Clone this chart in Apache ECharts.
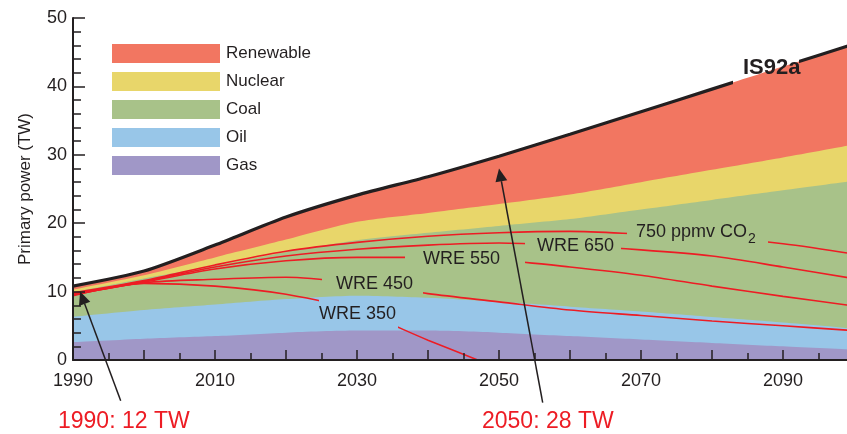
<!DOCTYPE html>
<html>
<head>
<meta charset="utf-8">
<script src="https://cdn.jsdelivr.net/npm/echarts@6/dist/echarts.min.js"></script>
<style>
  html, body { margin: 0; padding: 0; background: #fff; overflow: hidden; }
  /* The plot runs to 2100, a little past the right edge of the window */
  #chart { width: 857px; height: 434px; }
</style>
</head>
<body>
<div id="chart"></div>
<script>
// Primary power by source under the IS92a scenario (TW), decade steps
const years = [1990, 2000, 2010, 2020, 2030, 2040, 2050, 2060, 2070, 2080, 2090, 2100];
const gas       = [2.6, 3.1, 3.5, 4.0, 4.3, 4.3, 4.0, 3.5, 3.0, 2.5, 2.0, 1.5];
const oil       = [3.7, 4.2, 4.6, 4.9, 5.1, 4.8, 4.5, 4.3, 4.1, 3.8, 3.5, 3.1];
const coal      = [3.6, 4.6, 5.7, 6.9, 8.1, 9.5, 11.1, 12.8, 14.9, 17.1, 19.3, 21.6];
const nuclear   = [0.4, 0.5, 1.2, 1.8, 2.7, 2.9, 3.2, 3.6, 4.0, 4.4, 4.8, 5.3];
const renewable = [0.5, 0.6, 1.8, 3.3, 3.9, 5.3, 7.0, 8.8, 10.3, 11.8, 13.3, 14.7];

// Carbon-free power needed for WRE CO2 stabilisation paths (TW)
const wre750 = [9.8, 11.6, 13.9, 15.9, 17.2, 18.1, 18.6, 18.8, 18.4, 17.9, 17.0, 15.5];
const wre650 = [9.7, 11.5, 13.6, 15.2, 16.2, 16.8, 17.1, 16.7, 16.1, 15.2, 13.6, 11.9];
const wre550 = [9.6, 11.4, 13.3, 14.5, 15.0, 15.0, 14.6, 13.6, 12.4, 10.8, 9.3, 7.9];
const wre450 = [9.5, 11.3, 11.8, 12.1, 11.2, 9.7, 8.5, 7.3, 6.5, 5.7, 5.0, 4.3];
const years350 = [1990, 2000, 2010, 2020, 2030, 2040, 2047];
const wre350 = [9.4, 11.2, 10.8, 9.6, 7.2, 2.9, 0];

// Annotated points: [year, TW] the arrows point at
const arrowTargets = [[1991, 10.0], [2050, 28.0]];
const annotations = ['1990: 12 TW', '2050: 28 TW'];

const sourceNames = ['Renewable', 'Nuclear', 'Coal', 'Oil', 'Gas'];
const sourceColors = {
  Gas: '#A097C7', Oil: '#98C6E8', Coal: '#A8C289', Nuclear: '#E8D66A', Renewable: '#F27661'
};

const FONT = '"Liberation Sans", Arial, Helvetica, sans-serif';
const INK = '#231f20';
const RED = '#ed1c24';

const pairs = (xs, ys) => xs.map((x, i) => [x, ys[i]]);

// Running totals, bottom (gas) to top (renewable): the upper edge of each band
const layers = { Gas: gas, Oil: oil, Coal: coal, Nuclear: nuclear, Renewable: renewable };
const bottomUp = ['Gas', 'Oil', 'Coal', 'Nuclear', 'Renewable'];
const tops = {};
let running = years.map(() => 0);
bottomUp.forEach(n => {
  running = running.map((v, i) => +(v + layers[n][i]).toFixed(2));
  tops[n] = running;
});
const is92aTotal = tops.Renewable;

// Each band is filled down to the axis; upper bands are painted first so the
// lower ones cover them, leaving each colour visible only within its own band.
function bandSeries(name) {
  return {
    name, type: 'line', smooth: 0.25,
    symbol: 'none', showSymbol: false,
    color: sourceColors[name],
    lineStyle: { width: 0, color: sourceColors[name] },
    areaStyle: { color: sourceColors[name], opacity: 1, origin: 'start' },
    data: pairs(years, tops[name]), z: 2
  };
}

function wreSeries(name, xs, values) {
  return {
    name, type: 'line', smooth: 0.3, symbol: 'none', showSymbol: false,
    color: RED, lineStyle: { width: 1.6 },
    data: pairs(xs, values), z: 4
  };
}

// Hides a stretch of a line so its text label can sit in the gap
function gap(seriesIndex, from, to, color) {
  return {
    type: 'piecewise', show: false, dimension: 0, seriesIndex,
    pieces: [
      { lt: from, color },
      { gte: from, lte: to, color: 'rgba(0,0,0,0)' },
      { gt: to, color }
    ]
  };
}

const chart = echarts.init(document.getElementById('chart'), null, { renderer: 'canvas' });

const series = sourceNames.map(bandSeries);           // indices 0..4
series.push({                                          // index 5
  name: 'IS92a', type: 'line', smooth: 0.25, symbol: 'none', showSymbol: false,
  color: INK, lineStyle: { width: 3.2 }, data: pairs(years, is92aTotal), z: 5
});
series.push(
  wreSeries('WRE 750', years, wre750),                 // 6
  wreSeries('WRE 650', years, wre650),                 // 7
  wreSeries('WRE 550', years, wre550),                 // 8
  wreSeries('WRE 450', years, wre450),                 // 9
  wreSeries('WRE 350', years350, wre350)               // 10
);

const option = {
  animation: false,
  backgroundColor: '#fff',
  textStyle: { fontFamily: FONT },
  grid: { left: 73, right: 0, top: 18, bottom: 74, containLabel: false },
  legend: {
    orient: 'vertical', left: 112, top: 44, padding: 0,
    itemWidth: 108, itemHeight: 19, itemGap: 9,
    icon: 'rect', selectedMode: false,
    itemStyle: { borderWidth: 0 },
    textStyle: { fontFamily: FONT, fontSize: 17, color: INK, padding: [0, 0, 0, 1] },
    data: sourceNames.map(n => ({ name: n, itemStyle: { color: sourceColors[n], borderWidth: 0 } }))
  },
  xAxis: {
    type: 'value', min: 1990, max: 2100, interval: 10, z: 10,
    axisLine: { show: true, lineStyle: { color: INK, width: 2 } },
    axisTick: { show: true, inside: true, length: 10, lineStyle: { color: INK, width: 1.5 } },
    minorTick: { show: true, splitNumber: 2, length: 7, lineStyle: { color: INK, width: 1.5 } },
    splitLine: { show: false },
    axisLabel: {
      fontFamily: FONT, fontSize: 18, color: INK, margin: 12,
      formatter: v => ((v - 1990) % 20 === 0 && v < 2100 ? String(v) : '')
    }
  },
  yAxis: {
    type: 'value', min: 0, max: 50, interval: 10, z: 10,
    name: 'Primary power (TW)', nameLocation: 'middle', nameGap: 39,
    nameTextStyle: { fontFamily: FONT, fontSize: 17, color: INK },
    axisLine: { show: true, lineStyle: { color: INK, width: 2 } },
    axisTick: { show: true, inside: true, length: 12, lineStyle: { color: INK, width: 1.5 } },
    minorTick: { show: true, splitNumber: 5, length: 8, lineStyle: { color: INK, width: 1.5 } },
    splitLine: { show: false },
    axisLabel: { fontFamily: FONT, fontSize: 18, color: INK, margin: 6 }
  },
  visualMap: [
    gap(5, 2083.0, 2092.3, INK),
    gap(6, 2068.0, 2087.9, RED),
    gap(7, 2053.6, 2067.2, RED),
    gap(8, 2036.7, 2053.6, RED),
    gap(9, 2025.0, 2039.3, RED),
    gap(10, 2024.6, 2035.8, RED)
  ],
  series
};

chart.setOption(option);

// Text labels and annotation arrows
const textEl = (x, y, text, size, opts) => ({
  type: 'text', x, y, z: 100,
  style: Object.assign({
    text, fill: INK, font: size + 'px ' + FONT, verticalAlign: 'middle', align: 'left'
  }, opts || {})
});

const measure = (() => {
  const ctx = document.createElement('canvas').getContext('2d');
  return (text, font) => { ctx.font = font; return ctx.measureText(text).width; };
})();

const graphics = [
  textEl(319, 314, 'WRE 350', 18),
  textEl(336, 284, 'WRE 450', 18),
  textEl(423, 259, 'WRE 550', 18),
  textEl(537, 246, 'WRE 650', 18),
  textEl(636, 232, '750 ppmv CO', 18),
  textEl(636 + measure('750 ppmv CO', '18px ' + FONT) + 1, 239, '2', 14),
  textEl(743, 68, 'IS92a', 22, { font: 'bold 22px ' + FONT })
];

const annotationLeft = [58, 482];
const arrowTails = [[120.7, 400.7], [542.7, 402.7]];
annotations.forEach((txt, i) => {
  graphics.push(textEl(annotationLeft[i], 422, txt, 23, { fill: RED }));
  const tip = chart.convertToPixel({ seriesIndex: 0 }, arrowTargets[i]);
  const tail = arrowTails[i];
  const dx = tip[0] - tail[0], dy = tip[1] - tail[1];
  const len = Math.sqrt(dx * dx + dy * dy);
  const ux = dx / len, uy = dy / len;
  const headLen = 13, headHalf = 6;
  const bx = tip[0] - ux * headLen, by = tip[1] - uy * headLen;
  graphics.push({
    type: 'line', z: 100,
    shape: { x1: tail[0], y1: tail[1], x2: bx, y2: by },
    style: { stroke: INK, lineWidth: 1.5 }
  });
  graphics.push({
    type: 'polygon', z: 100,
    shape: { points: [
      [tip[0], tip[1]],
      [bx - uy * headHalf, by + ux * headHalf],
      [bx + uy * headHalf, by - ux * headHalf]
    ] },
    style: { fill: INK }
  });
});

chart.setOption({ graphic: graphics });
</script>
</body>
</html>
